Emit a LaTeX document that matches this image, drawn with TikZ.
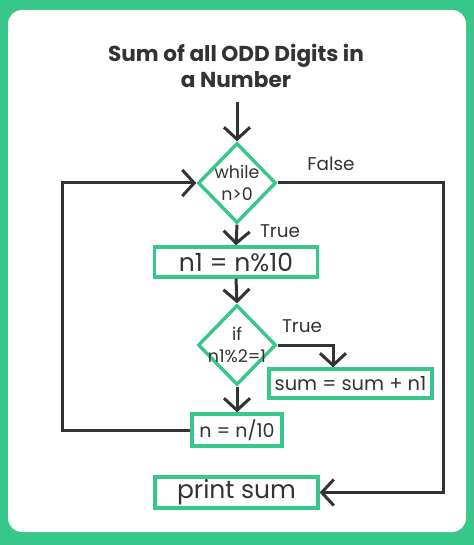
\documentclass[tikz,border=0pt]{standalone}
\usepackage{fontspec}
\setmainfont{Poppins}
\usepackage{tikz}
\usetikzlibrary{shapes.geometric,arrows.meta}

\definecolor{ggreen}{RGB}{56,199,139}
\definecolor{ink}{RGB}{51,51,51}

\tikzset{
  box/.style={draw=ggreen, line width=1.7pt, fill=white, text=ink, inner sep=0pt},
  decision/.style={diamond, draw=ggreen, line width=1.7pt, inner sep=0pt,
    minimum width=39pt, minimum height=40pt},
  dtext/.style={align=center, text=ink, inner sep=0pt, font=\fontsize{8.7}{11}\selectfont},
  flow/.style={draw=ink, line width=1.5pt, -{Straight Barb[length=6pt,width=13pt]}},
  line/.style={draw=ink, line width=1.5pt},
  lbl/.style={text=ink, font=\fontsize{9.2}{11}\selectfont}
}

\begin{document}
\begin{tikzpicture}[x=0.5pt,y=-0.5pt]
\useasboundingbox (0,0) rectangle (474,545);
\fill[ggreen] (0,0) rectangle (474,545);
\fill[white, rounded corners=7pt] (8,10) rectangle (466,532);

\node[align=center, text=ink, font=\fontsize{10.8}{13}\selectfont\bfseries] (title) at (236,66)
  {Sum of all ODD Digits in\\a Number};
\coordinate (start) at (237,102);

% loop test and its body
\node[decision] (loop) at (237,183) {};
\node[dtext] (looptxt) at (loop) {while\\n>0};
\node[box, minimum width=81.5pt, minimum height=15pt, font=\fontsize{12.5}{14}\selectfont] (mod) at (236,262) {n1 = n\%10};
\node[decision] (odd) at (237,345) {};
\node[dtext] (oddtxt) at (odd) {if\\n1\%2=1};
\node[box, minimum width=81.5pt, minimum height=14.5pt, font=\fontsize{9.7}{12}\selectfont] (add) at (350.5,383.5) {sum = sum + n1};
\node[box, minimum width=45pt, minimum height=16pt, font=\fontsize{9.5}{12}\selectfont] (div) at (237,430) {n = n/10};
\node[box, minimum width=81.5pt, minimum height=15.5pt, font=\fontsize{12.5}{14}\selectfont] (out) at (236.5,492.5) {print sum};

\coordinate (back) at (62,430);
\coordinate (exit) at (443,183);

\draw[flow] (start) -- (loop.north);
\draw[flow] (loop.south) -- (mod.north);
\draw[flow] (mod.south) -- (odd.north);
\draw[flow] (odd.east) -| ([xshift=-8.75pt]add.north);
\draw[flow] (odd.south) -- (div.north);
\draw[flow] (div.west) -- (back) |- (loop.west);
\draw[flow] (loop.east) -- (exit) |- (out.east);

\node[lbl] (lfalse) at (331,164) {False};
\node[lbl] (ltrue1) at (280,231) {True};
\node[lbl] (ltrue2) at (302,326) {True};
\end{tikzpicture}
\end{document}
